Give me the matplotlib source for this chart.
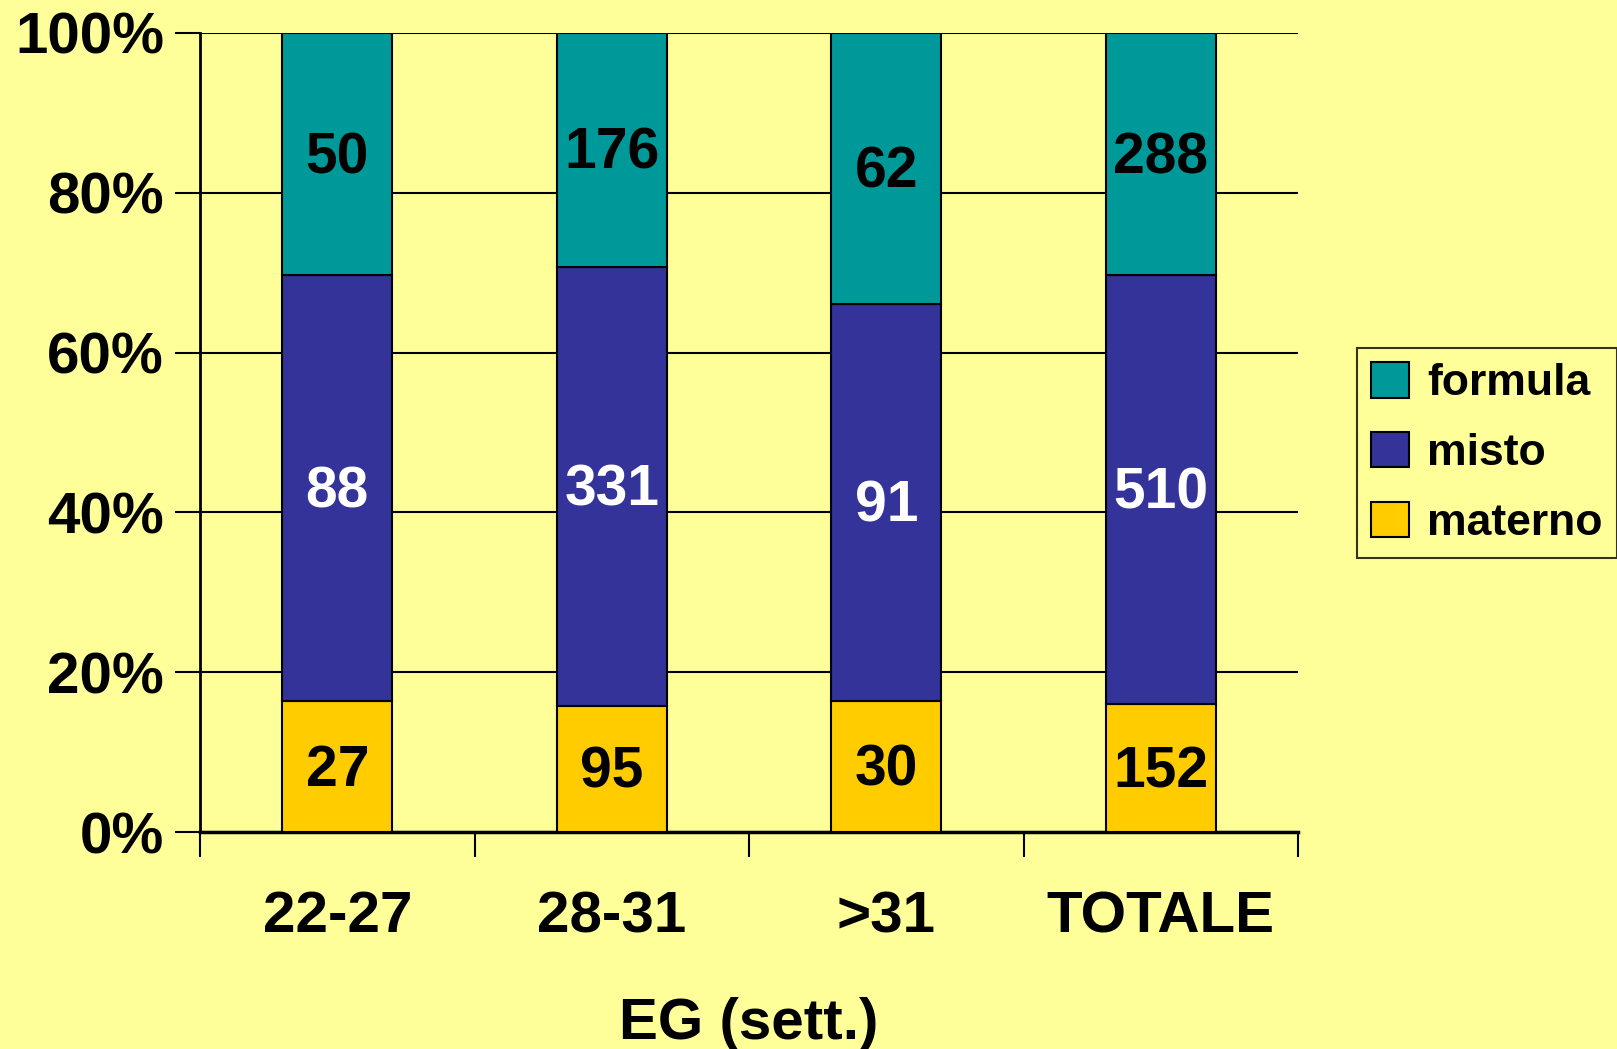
import numpy as np
import matplotlib.pyplot as plt

categories = ["22-27", "28-31", ">31", "TOTALE"]
materno = [27, 95, 30, 152]
misto = [88, 331, 91, 510]
formula = [50, 176, 62, 288]

plt.rcParams['font.family'] = ['Liberation Sans', 'DejaVu Sans']
plt.rcParams['font.weight'] = 'bold'

bg = '#FFFF99'
colors = {'formula': '#009999', 'misto': '#333399', 'materno': '#FFCC00'}

mat = np.array(materno, dtype=float)
mis = np.array(misto, dtype=float)
frm = np.array(formula, dtype=float)
tot = mat + mis + frm
p_mat = mat / tot * 100
p_mis = mis / tot * 100
p_frm = frm / tot * 100

fig = plt.figure(figsize=(16.17, 10.49), dpi=100, facecolor=bg)
ax = fig.add_axes([200 / 1617, 1 - 832 / 1049, 1098 / 1617, 799 / 1049])
ax.set_facecolor(bg)

x = np.arange(len(categories))
w = 0.40
b1 = ax.bar(x, p_mat, w, color=colors['materno'], edgecolor='black', linewidth=1.5, label='materno', zorder=3)
b2 = ax.bar(x, p_mis, w, bottom=p_mat, color=colors['misto'], edgecolor='black', linewidth=1.5, label='misto', zorder=3)
b3 = ax.bar(x, p_frm, w, bottom=p_mat + p_mis, color=colors['formula'], edgecolor='black', linewidth=1.5, label='formula', zorder=3)

for i in range(len(categories)):
    ax.text(x[i], p_mat[i] / 2 - 0.5, str(materno[i]), ha='center', va='center', fontsize=41, color='black', fontweight='bold', zorder=4)
    ax.text(x[i], p_mat[i] + p_mis[i] / 2 - 0.5, str(misto[i]), ha='center', va='center', fontsize=41, color='white', fontweight='bold', zorder=4)
    ax.text(x[i], p_mat[i] + p_mis[i] + p_frm[i] / 2 - 0.5, str(formula[i]), ha='center', va='center', fontsize=41, color='black', fontweight='bold', zorder=4)

ax.set_xlim(-0.5, len(categories) - 0.5)
ax.set_ylim(0, 100)
ax.set_yticks([0, 20, 40, 60, 80, 100])
ax.set_yticklabels(['0%', '20%', '40%', '60%', '80%', '100%'], fontsize=42, fontweight='bold')
ax.yaxis.grid(True, color='black', linewidth=1.5, zorder=0)
ax.tick_params(axis='y', length=18, width=1.5, pad=8)

ax.set_xticks(x)
ax.set_xticklabels(categories, fontsize=42, fontweight='bold')
ax.tick_params(axis='x', length=0, pad=42)
ax.set_xticks(np.arange(-0.5, len(categories), 1), minor=True)
ax.tick_params(axis='x', which='minor', length=18, width=1.5)
ax.set_xlabel('EG (sett.)', fontsize=42, fontweight='bold', labelpad=38)

for s in ['top', 'right']:
    ax.spines[s].set_visible(False)
ax.spines['left'].set_linewidth(2)
ax.spines['bottom'].set_linewidth(2.5)

handles = [b3, b2, b1]
leg = fig.legend(handles, ['formula', 'misto', 'materno'], loc='upper left',
                 bbox_to_anchor=(1357 / 1617, 1 - 348 / 1049), fontsize=32,
                 frameon=True, fancybox=False, edgecolor='black', facecolor=bg,
                 handlelength=0.85, handleheight=0.85, handletextpad=0.4,
                 labelspacing=0.62, borderpad=0.32, borderaxespad=0)
leg.get_frame().set_linewidth(1.5)
for t in leg.get_texts():
    t.set_fontweight('bold')

fig.savefig('out.png', dpi=100, facecolor=bg)
